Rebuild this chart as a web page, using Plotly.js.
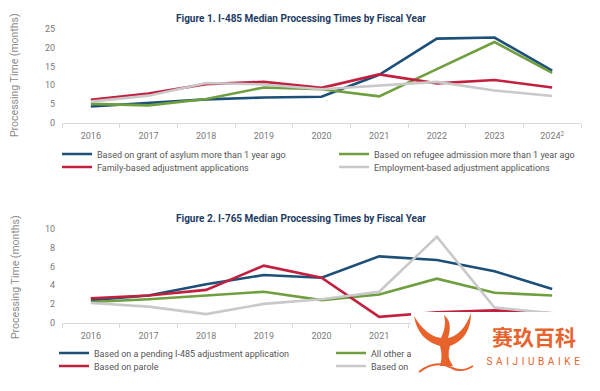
<!DOCTYPE html>
<html>
<head>
<meta charset="utf-8">
<script src="https://cdn.plot.ly/plotly-3.0.1.min.js"></script>
<style>
  html, body { margin: 0; padding: 0; background: #fff; }
  #wrap { position: relative; width: 600px; height: 391px; }
  #chart { width: 600px; height: 391px; }
  #mark { position: absolute; left: 0; top: 0; pointer-events: none; }
</style>
</head>
<body>
<div id="wrap">
  <div id="chart"></div>
  <!-- site watermark laid over the lower-right corner -->
  <svg id="mark" width="600" height="391" viewBox="0 0 600 391">
    <rect x="411" y="312" width="189" height="79" fill="#ffffff"/>
    <path d="M414,316 Q426,336 441,338 Q447,326 444,315 Q453,322 448,338 Q463,335 471,313
             Q471,338 450,346 Q446,357 453,366 L440,366 Q443,356 440,346 Q418,340 414,316 Z"
          fill="#e8622c"/>
    <path d="M419,372 Q436,359 452,368 Q462,373 473,366" fill="none" stroke="#e8622c" stroke-width="2"/>
    <text x="534" y="345" text-anchor="middle" fill="#e8622c"
          font-family="'Noto Sans CJK SC', sans-serif" font-weight="bold" font-size="21">赛玖百科</text>
    <text x="535" y="365" text-anchor="middle" fill="#e8622c"
          font-family="Roboto, sans-serif" font-size="10" letter-spacing="3.6">SAIJIUBAIKE</text>
  </svg>
</div>
<script>
// Fiscal years shared by both figures
const years = ['2016', '2017', '2018', '2019', '2020', '2021', '2022', '2023', '2024'];
const yearLabels = ['2016', '2017', '2018', '2019', '2020', '2021', '2022', '2023', '2024<sup>2</sup>'];

// Figure 1: I-485 median processing times (months)
const i485Asylum     = [4.3, 5.3, 6.2, 6.7, 6.9, 12.8, 22.5, 22.8, 13.9];
const i485Refugee    = [5.0, 4.6, 6.3, 9.4, 8.9, 7.0, 14.3, 21.6, 13.3];
const i485Family     = [6.1, 7.8, 10.3, 10.9, 9.3, 12.9, 10.5, 11.4, 9.4];
const i485Employment = [5.6, 7.2, 10.6, 10.2, 8.9, 9.9, 10.9, 8.6, 7.1];

// Figure 2: I-765 median processing times (months)
const i765PendingI485 = [2.4, 2.9, 4.1, 5.1, 4.8, 7.1, 6.7, 5.5, 3.6];
const i765AllOther    = [2.2, 2.5, 2.9, 3.3, 2.4, 3.0, 4.7, 3.2, 2.9];
const i765Parole      = [2.6, 2.9, 3.5, 6.1, 4.8, 0.6, 1.1, 1.3, 1.0];
const i765Asylum      = [2.1, 1.7, 0.9, 2.0, 2.5, 3.3, 9.2, 1.6, 1.0];

const BLUE = '#1c5078';
const GREEN = '#6f9f3e';
const RED = '#c3203f';
const GRAY = '#c9c9c9';

const W = 600, H = 391;
const py = v => 1 - v / H;                 // pixel row -> paper y
const px = v => (v - 62) / (W - 62 - 19);  // pixel column -> paper x

const FONT = 'Roboto, "Open Sans", sans-serif';

// Each series gets its own legend box so the two-column key can be laid out freely
const series = [
  { name: 'Based on grant of asylum more than 1 year ago', y: i485Asylum, color: BLUE, fig: 1, lx: 57, ly: 154 },
  { name: 'Based on refugee admission more than 1 year ago', y: i485Refugee, color: GREEN, fig: 1, lx: 334, ly: 154 },
  { name: 'Family-based adjustment applications', y: i485Family, color: RED, fig: 1, lx: 57, ly: 167 },
  { name: 'Employment-based adjustment applications', y: i485Employment, color: GRAY, fig: 1, lx: 334, ly: 167 },
  { name: 'Based on a pending I-485 adjustment application', y: i765PendingI485, color: BLUE, fig: 2, lx: 54, ly: 353 },
  { name: 'All other applications', y: i765AllOther, color: GREEN, fig: 2, lx: 331, ly: 353 },
  { name: 'Based on parole', y: i765Parole, color: RED, fig: 2, lx: 54, ly: 366 },
  { name: 'Based on a pending asylum application', y: i765Asylum, color: GRAY, fig: 2, lx: 331, ly: 366 }
];

const traces = [];
const layout = {
  width: W, height: H,
  margin: { l: 62, r: 19, t: 0, b: 0 },
  paper_bgcolor: '#fff', plot_bgcolor: '#fff',
  showlegend: true
};

series.forEach((s, i) => {
  const key = i === 0 ? 'legend' : 'legend' + (i + 1);
  traces.push({
    type: 'scatter', mode: 'lines', name: s.name,
    x: years, y: s.y,
    xaxis: s.fig === 1 ? 'x' : 'x2', yaxis: s.fig === 1 ? 'y' : 'y2',
    legend: key,
    line: { color: s.color, width: 2.6 },
    hoverinfo: 'skip'
  });
  layout[key] = {
    x: px(s.lx), y: py(s.ly), xanchor: 'left', yanchor: 'middle',
    orientation: 'v', itemwidth: 30,
    font: { family: FONT, size: 9, color: '#555' },
    bgcolor: 'rgba(0,0,0,0)', borderwidth: 0,
    itemclick: false, itemdoubleclick: false
  };
});

function xAxis(anchor) {
  return {
    type: 'category', anchor: anchor, range: [-0.5, 8.5],
    tickvals: years, ticktext: yearLabels,
    showline: true, linecolor: '#dadada', linewidth: 1,
    ticks: 'outside', tickson: 'boundaries', ticklen: 4, tickcolor: '#dadada',
    ticklabelstandoff: 5,
    showgrid: false, zeroline: false,
    tickfont: { family: FONT, size: 9, color: '#7a7a7a' },
    fixedrange: true
  };
}
function yAxis(anchor, domain, range, dtick) {
  return {
    anchor: anchor, domain: domain, range: range, dtick: dtick,
    showgrid: false, zeroline: false, showline: false, ticks: '',
    ticklabelstandoff: 6,
    tickfont: { family: FONT, size: 9, color: '#7a7a7a' },
    fixedrange: true
  };
}

layout.xaxis = xAxis('y');
layout.yaxis = yAxis('x', [py(122.5), py(29.3)], [0, 25], 5);
layout.xaxis2 = xAxis('y2');
layout.yaxis2 = yAxis('x2', [py(322.5), py(229.3)], [0, 10], 2);

function note(text, x, y, size, color, angle) {
  return {
    text: text, xref: 'paper', yref: 'paper', x: px(x), y: py(y),
    xanchor: 'center', yanchor: 'middle', showarrow: false, textangle: angle || 0,
    font: { family: FONT, size: size, color: color }
  };
}

layout.annotations = [
  note('<b>Figure 1. I-485 Median Processing Times by Fiscal Year</b>', 301, 18, 10, '#1f3d63'),
  note('<b>Figure 2. I-765 Median Processing Times by Fiscal Year</b>', 301, 218, 10, '#1f3d63'),
  note('Processing Time (months)', 15, 75, 10.5, '#8c8c8c', -90),
  note('Processing Time (months)', 15, 277, 10.5, '#8c8c8c', -90)
];

Plotly.newPlot('chart', traces, layout, { displayModeBar: false, staticPlot: true });
</script>
</body>
</html>
